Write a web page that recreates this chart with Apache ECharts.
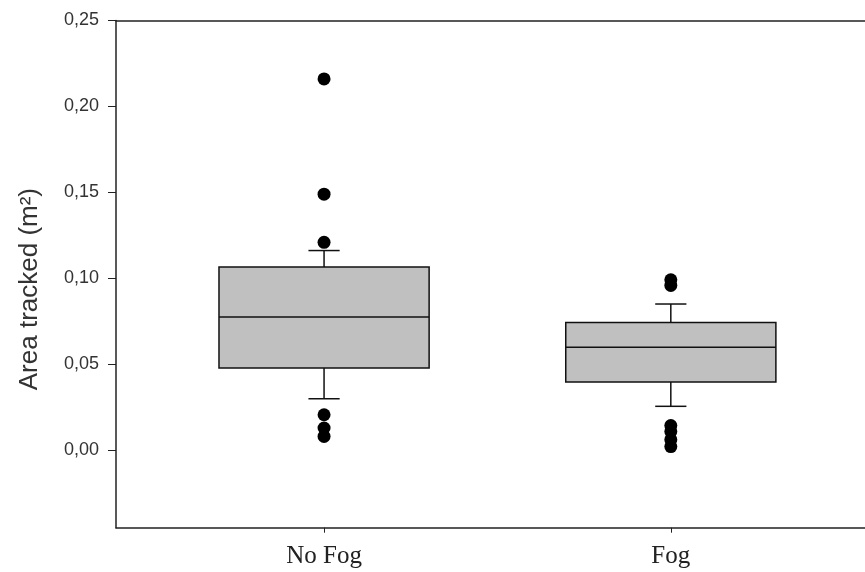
<!DOCTYPE html>
<html>
<head>
<meta charset="utf-8">
<script src="https://cdn.jsdelivr.net/npm/echarts@6/dist/echarts.min.js"></script>
<style>
html,body{margin:0;padding:0;background:#fff;}
#chart{width:865px;height:572px;}
</style>
</head>
<body>
<div id="chart"></div>
<script>
// ---- data ----
const categories = ['No Fog', 'Fog'];
const positions = [1, 2];
const whiskerLow = [0.030, 0.0256];
const q1 = [0.0479, 0.0397];
const median = [0.0775, 0.0599];
const q3 = [0.1066, 0.0744];
const whiskerHigh = [0.1162, 0.0851];
const outliersNoFog = [0.216, 0.149, 0.121, 0.0207, 0.013, 0.0081];
const outliersFog = [0.0992, 0.0959, 0.0144, 0.0109, 0.0062, 0.0022];
const yTicks = [0, 0.05, 0.10, 0.15, 0.20, 0.25];

const boxData = positions.map((p, i) => [p, whiskerLow[i], q1[i], median[i], q3[i], whiskerHigh[i]]);
const outlierData = []
  .concat(outliersNoFog.map(v => [positions[0], v]))
  .concat(outliersFog.map(v => [positions[1], v]));

const BOX_W = 0.606, CAP_W = 0.09;
const LINE = {stroke: '#111', lineWidth: 1.5};

function renderBox(params, api) {
  const x = api.value(0);
  const pLow = api.coord([x, api.value(1)]);
  const pQ1 = api.coord([x, api.value(2)]);
  const pMed = api.coord([x, api.value(3)]);
  const pQ3 = api.coord([x, api.value(4)]);
  const pHigh = api.coord([x, api.value(5)]);
  const bw = api.size([BOX_W, 0])[0];
  const cw = api.size([CAP_W, 0])[0];
  const cx = pMed[0];
  return {
    type: 'group',
    children: [
      {type: 'line', shape: {x1: cx, y1: pQ3[1], x2: cx, y2: pHigh[1]}, style: LINE},
      {type: 'line', shape: {x1: cx - cw / 2, y1: pHigh[1], x2: cx + cw / 2, y2: pHigh[1]}, style: LINE},
      {type: 'line', shape: {x1: cx, y1: pQ1[1], x2: cx, y2: pLow[1]}, style: LINE},
      {type: 'line', shape: {x1: cx - cw / 2, y1: pLow[1], x2: cx + cw / 2, y2: pLow[1]}, style: LINE},
      {type: 'rect', shape: {x: cx - bw / 2, y: pQ3[1], width: bw, height: pQ1[1] - pQ3[1]},
        style: {fill: '#c0c0c0', stroke: '#111', lineWidth: 1.5}},
      {type: 'line', shape: {x1: cx - bw / 2, y1: pMed[1], x2: cx + bw / 2, y2: pMed[1]}, style: LINE}
    ]
  };
}

const chart = echarts.init(document.getElementById('chart'), null, {renderer: 'canvas'});
chart.setOption({
  animation: false,
  backgroundColor: '#fff',
  grid: {left: 116, right: 0, top: 20.5, bottom: 44.3, containLabel: false},
  xAxis: [{
    type: 'value', min: 0.4, max: 2.56,
    splitLine: {show: false},
    axisLine: {show: true, onZero: false, lineStyle: {color: '#222', width: 1.5}},
    axisTick: {show: true, customValues: positions, length: 5, lineStyle: {color: '#222', width: 1}},
    axisLabel: {
      show: true, customValues: positions, margin: 16,
      formatter: v => categories[positions.indexOf(v)] || '',
      fontFamily: 'Liberation Serif', fontSize: 25, color: '#222'
    }
  }, {
    type: 'value', min: 0.4, max: 2.56, position: 'top',
    splitLine: {show: false},
    axisLine: {show: true, onZero: false, lineStyle: {color: '#222', width: 1.5}},
    axisTick: {show: false}, axisLabel: {show: false}
  }],
  yAxis: {
    type: 'value', min: -0.045, max: 0.25,
    name: 'Area tracked (m²)', nameLocation: 'middle', nameGap: 73,
    nameTextStyle: {fontFamily: 'Liberation Sans', fontSize: 26, color: '#333', padding: [0, 30, 0, 0]},
    splitLine: {show: false},
    axisLine: {show: true, onZero: false, lineStyle: {color: '#222', width: 1.5}},
    axisTick: {show: true, customValues: yTicks, length: 8, lineStyle: {color: '#222', width: 1}},
    axisLabel: {
      show: true, customValues: yTicks, margin: 17,
      formatter: v => v.toFixed(2).replace('.', ','),
      fontFamily: 'Liberation Sans', fontSize: 18, color: '#333'
    }
  },
  series: [{
    type: 'custom', renderItem: renderBox, data: boxData,
    encode: {x: 0, y: [1, 2, 3, 4, 5]}, z: 2
  }, {
    type: 'scatter', data: outlierData, symbol: 'circle', symbolSize: 13,
    itemStyle: {color: '#000', opacity: 1}, z: 3
  }]
});
</script>
</body>
</html>
